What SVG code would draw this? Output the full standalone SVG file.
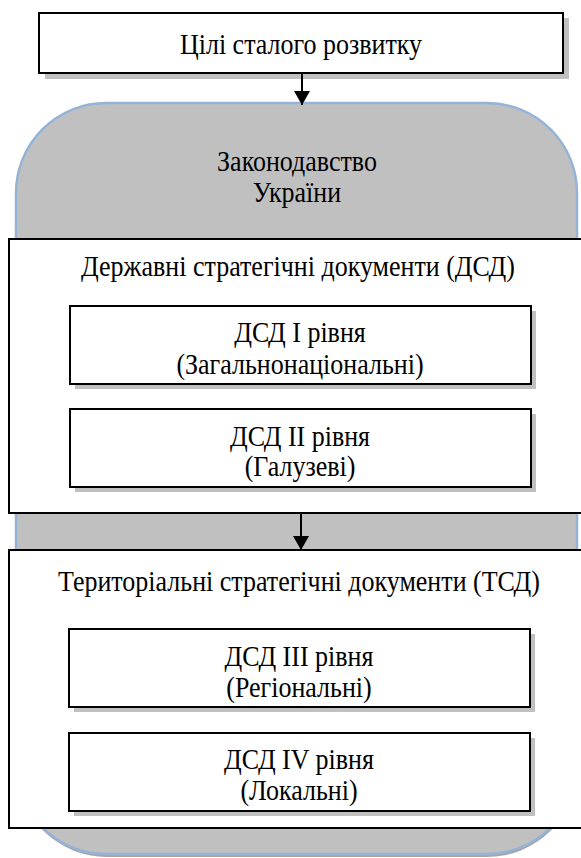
<svg xmlns="http://www.w3.org/2000/svg" width="581" height="858" viewBox="0 0 581 858">
  <style>
    text { font-family: "Liberation Serif", "DejaVu Serif", "Times New Roman", serif; font-size: 26px; fill: #000; text-anchor: middle; }
    .box { fill: #fff; stroke: #000; stroke-width: 2; }
    .shadow { fill: #c0c0c0; }
    .cont { fill: #fff; stroke: #000; stroke-width: 2; }
    .conn { stroke: #000; stroke-width: 2; fill: none; }
  </style>
  <defs>
    <marker id="arr" markerUnits="userSpaceOnUse" markerWidth="15" markerHeight="16" refX="14" refY="8" orient="auto" viewBox="0 0 15 16">
      <path d="M0,0 L14,8 L0,16 Z" fill="#000"/>
    </marker>
  </defs>

  <g id="legislation">
    <rect x="17" y="106" width="560" height="751" rx="90" ry="90" fill="#a6a6a6"/>
    <rect x="16" y="103" width="561" height="751" rx="90" ry="90" fill="#c0c0c0" stroke="#95b3d7" stroke-width="2.5"/>
    <text transform="translate(297 171) scale(1 1.15)">Законодавство</text>
    <text transform="translate(297 202) scale(1 1.15)">України</text>
  </g>

  <g id="sdg">
    <rect class="shadow" x="45" y="18" width="524" height="61"/>
    <rect class="box" x="39" y="13" width="524" height="60"/>
    <text transform="translate(301 53.5) scale(1 1.15)">Цілі сталого розвитку</text>
  </g>

  <g id="dsd">
    <rect class="cont" x="9" y="239" width="575" height="274"/>
    <text transform="translate(298 276) scale(1 1.15)">Державні стратегічні документи (ДСД)</text>
  </g>

  <g id="dsd1">
    <rect class="shadow" x="75" y="311" width="461" height="78"/>
    <rect class="box" x="70" y="306" width="461" height="78"/>
    <text transform="translate(300 342) scale(1 1.15)">ДСД I рівня</text>
    <text transform="translate(300 374) scale(1 1.15)">(Загальнонаціональні)</text>
  </g>

  <g id="dsd2">
    <rect class="shadow" x="75" y="414" width="461" height="78"/>
    <rect class="box" x="70" y="409" width="461" height="78"/>
    <text transform="translate(300 446) scale(1 1.15)">ДСД II рівня</text>
    <text transform="translate(300 476) scale(1 1.15)">(Галузеві)</text>
  </g>

  <g id="tsd">
    <rect class="cont" x="9" y="550" width="575" height="278"/>
    <text transform="translate(299 591) scale(1 1.15)">Територіальні стратегічні документи (ТСД)</text>
  </g>

  <g id="dsd3">
    <rect class="shadow" x="74" y="634" width="461" height="78"/>
    <rect class="box" x="69" y="629" width="461" height="78"/>
    <text transform="translate(299 666) scale(1 1.15)">ДСД III рівня</text>
    <text transform="translate(299 697) scale(1 1.15)">(Регіональні)</text>
  </g>

  <g id="dsd4">
    <rect class="shadow" x="74" y="738" width="461" height="78"/>
    <rect class="box" x="69" y="733" width="461" height="78"/>
    <text transform="translate(299 769) scale(1 1.15)">ДСД IV рівня</text>
    <text transform="translate(299 800) scale(1 1.15)">(Локальні)</text>
  </g>

  <g id="connectors">
    <line class="conn" x1="302" y1="73" x2="302" y2="105" marker-end="url(#arr)"/>
    <line class="conn" x1="301" y1="513" x2="301" y2="550" marker-end="url(#arr)"/>
  </g>
</svg>
